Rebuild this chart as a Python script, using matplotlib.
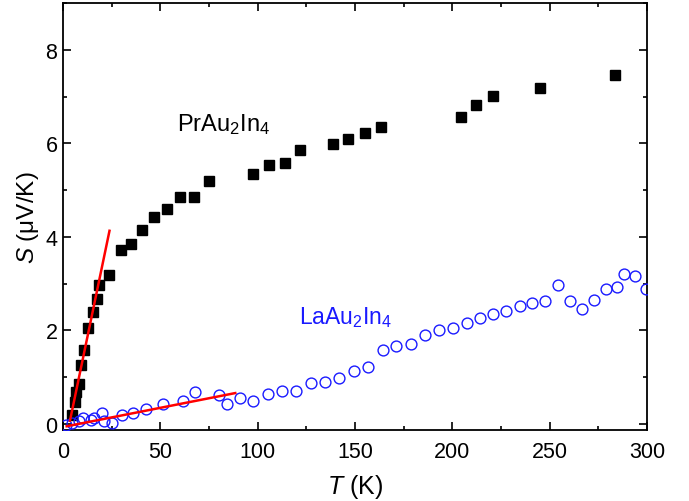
import matplotlib
matplotlib.use('Agg')
import matplotlib.pyplot as plt
from matplotlib.ticker import MultipleLocator

plt.rcParams['font.family'] = ['Liberation Sans', 'DejaVu Sans']
plt.rcParams['mathtext.fontset'] = 'custom'
plt.rcParams['mathtext.rm'] = 'Liberation Sans'
plt.rcParams['mathtext.it'] = 'Liberation Sans:italic'

# PrAu2In4 (schwarze Quadrate)
t_pr = [4.5, 6.2, 6.7, 8.2, 9.4, 10.8, 12.7, 15.5, 17.3, 18.4, 23.7, 29.6, 34.8,
        40.8, 46.8, 53.4, 59.9, 67.3, 74.9, 97.7, 105.9, 113.9, 121.9, 138.5,
        146.5, 154.9, 163.3, 204.3, 212.4, 220.8, 245.0, 283.5]
s_pr = [0.19, 0.47, 0.68, 0.86, 1.25, 1.58, 2.06, 2.39, 2.67, 2.97, 3.19, 3.72, 3.85,
        4.15, 4.43, 4.60, 4.85, 4.85, 5.20, 5.35, 5.53, 5.58, 5.85, 5.99,
        6.09, 6.22, 6.35, 6.57, 6.82, 7.02, 7.19, 7.47]

# LaAu2In4 (blaue Kreise)
t_la = [1.8, 4.6, 8.2, 10.2, 14.3, 15.9, 19.8, 21.0, 25.1, 30.5, 36.0, 42.9, 51.4,
        61.6, 67.6, 80.4, 84.2, 90.7, 97.8, 105.2, 112.6, 119.7, 127.2, 134.6,
        141.9, 149.6, 156.8, 164.6, 171.3, 178.6, 186.0, 193.1, 200.3, 207.3,
        214.1, 221.0, 227.8, 234.6, 240.9, 247.8, 254.3, 260.4, 266.5, 272.9,
        279.0, 284.7, 288.3, 293.7, 299.3]
s_la = [-0.03, 0.02, 0.06, 0.13, 0.09, 0.13, 0.23, 0.07, 0.03, 0.20, 0.23, 0.32, 0.42,
        0.50, 0.68, 0.62, 0.42, 0.56, 0.48, 0.64, 0.71, 0.71, 0.88, 0.89,
        0.99, 1.14, 1.21, 1.58, 1.67, 1.71, 1.91, 2.00, 2.05, 2.16,
        2.27, 2.35, 2.42, 2.52, 2.59, 2.62, 2.97, 2.63, 2.46, 2.64,
        2.89, 2.92, 3.20, 3.17, 2.89]

# lineare Fits (Endpunkte)
fit_pr_t = [3.6, 23.9]
fit_pr_s = [0.07, 4.13]
fit_la_t = [1.9, 88.5]
fit_la_s = [-0.05, 0.66]

fig = plt.figure(figsize=(6.89, 5.02), dpi=100)
ax = fig.add_axes([0.0914, 0.1414, 0.8476, 0.8506])

ax.plot(t_pr, s_pr, 's', color='black', markersize=7.5, zorder=3)
ax.plot(t_la, s_la, 'o', mfc='none', mec='#1a1aff', mew=1.0, markersize=7.8, zorder=3)
ax.plot(fit_pr_t, fit_pr_s, color='red', lw=1.8, zorder=4)
ax.plot(fit_la_t, fit_la_s, color='red', lw=1.8, zorder=4)

ax.text(58.4, 6.42, r'PrAu$_2$In$_4$', fontsize=17, va='center', ha='left')
ax.text(121.5, 2.29, r'LaAu$_2$In$_4$', fontsize=16.5, va='center', ha='left', color='#1a1aff')

ax.set_xlim(0, 300)
ax.set_ylim(-0.13, 9.0)
ax.xaxis.set_major_locator(MultipleLocator(50))
ax.xaxis.set_minor_locator(MultipleLocator(25))
ax.yaxis.set_major_locator(MultipleLocator(2))
ax.yaxis.set_minor_locator(MultipleLocator(1))
ax.tick_params(which='both', direction='in', top=True, right=True, width=1.2, labelsize=15.5)
ax.tick_params(which='major', length=6)
ax.tick_params(which='minor', length=3)
ax.tick_params(axis='x', which='major', pad=8)
ax.tick_params(axis='y', which='major', pad=4)
for sp in ax.spines.values():
    sp.set_linewidth(1.3)

ax.set_xlabel(r'$\mathit{T}$ (K)', fontsize=18, labelpad=7)
ax.set_ylabel(r'$\mathit{S}$ ($\mathrm{\mu}$V/K)', fontsize=17.5, labelpad=3)

fig.savefig('out.png', dpi=100)
